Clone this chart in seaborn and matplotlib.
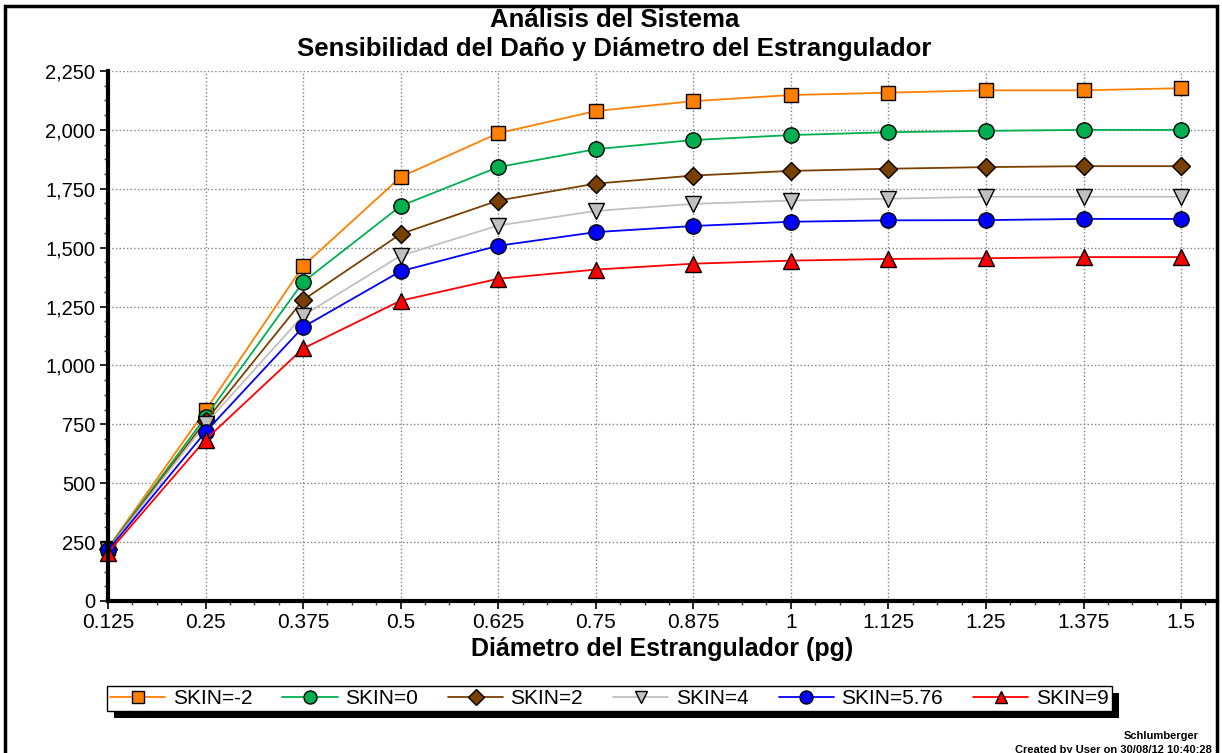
import numpy as np
import pandas as pd
import matplotlib
matplotlib.use('Agg')
import matplotlib.pyplot as plt
import seaborn as sns
from matplotlib.patches import Rectangle
from matplotlib.ticker import MultipleLocator, FuncFormatter, FixedLocator

sns.set_style('white')
plt.rcParams['font.family'] = ['Liberation Sans', 'DejaVu Sans']
plt.rcParams.update({'text.color': 'black', 'axes.labelcolor': 'black',
                     'xtick.color': 'black', 'ytick.color': 'black'})

# Data
choke = [0.125, 0.25, 0.375, 0.5, 0.625, 0.75, 0.875, 1.0, 1.125, 1.25, 1.375, 1.5]
choke_labels = ['0.125', '0.25', '0.375', '0.5', '0.625', '0.75', '0.875',
                '1', '1.125', '1.25', '1.375', '1.5']

skin_m2 = [225, 810, 1422, 1800, 1986, 2080, 2122, 2148, 2158, 2168, 2168, 2177]
skin_0 = [222, 781, 1354, 1677, 1842, 1918, 1957, 1978, 1990, 1996, 2000, 2000]
skin_2 = [220, 764, 1278, 1558, 1700, 1772, 1806, 1826, 1835, 1842, 1846, 1846]
skin_4 = [218, 752, 1212, 1466, 1594, 1656, 1686, 1700, 1708, 1716, 1716, 1716]
skin_576 = [215, 718, 1163, 1400, 1508, 1566, 1592, 1610, 1616, 1617, 1622, 1622]
skin_9 = [205, 685, 1072, 1275, 1368, 1407, 1432, 1445, 1452, 1455, 1460, 1460]

series_names = ['SKIN=-2', 'SKIN=0', 'SKIN=2', 'SKIN=4', 'SKIN=5.76', 'SKIN=9']
series_vals = [skin_m2, skin_0, skin_2, skin_4, skin_576, skin_9]
colors = ['#FF8000', '#00B050', '#7A4000', '#C0C0C0', '#0000FF', '#FF0000']
markers = ['s', 'o', 'D', 'v', 'o', '^']
msizes = [10, 11, 9, 11, 11, 11]

fig = plt.figure(figsize=(12.22, 7.53), dpi=100)
ax = fig.add_axes([108 / 1222, 1 - 601 / 753, (1217 - 108) / 1222, (601 - 71) / 753])

for name, vals, c, m, ms in zip(series_names, series_vals, colors, markers, msizes):
    sns.lineplot(x=choke, y=vals, color=c, marker=m, markersize=ms,
                 markeredgecolor='black', markeredgewidth=1.0, linewidth=1.3,
                 label=name, ax=ax, clip_on=False)

handles, labels = ax.get_legend_handles_labels()
if ax.get_legend() is not None:
    ax.get_legend().remove()

ax.set_xlim(0.125, 1.546)
ax.set_ylim(0, 2250)
ax.xaxis.set_major_locator(FixedLocator(choke))
ax.set_xticklabels(choke_labels)
ax.xaxis.set_minor_locator(MultipleLocator(0.03125))
ax.yaxis.set_major_locator(MultipleLocator(250))
ax.yaxis.set_minor_locator(MultipleLocator(62.5))
ax.yaxis.set_major_formatter(FuncFormatter(lambda v, p: f'{v:,.0f}'))

ax.grid(True, which='major', color='#808080', linestyle=':', linewidth=1.0)
ax.set_axisbelow(True)
for s in ['top', 'right']:
    ax.spines[s].set_visible(False)
for s in ['left', 'bottom']:
    ax.spines[s].set_linewidth(3)
    ax.spines[s].set_color('black')

ax.tick_params(axis='both', which='major', direction='out', length=6, width=1.2,
               colors='black', left=True, bottom=True, pad=3)
ax.tick_params(axis='y', which='major', labelsize=14.5)
ax.tick_params(axis='x', which='major', labelsize=15)
ax.tick_params(axis='both', which='minor', direction='out', length=3, width=1,
               colors='#404040', left=True, bottom=True)

ax.set_xlabel('Diámetro del Estrangulador (pg)', fontsize=18, fontweight='bold', labelpad=3)
ax.set_ylabel('')

fig.text(0.503, 1 - 27 / 753, 'Análisis del Sistema', ha='center', va='baseline',
         fontsize=18.5, fontweight='bold')
fig.text(0.503, 1 - 56 / 753, 'Sensibilidad del Daño y Diámetro del Estrangulador',
         ha='center', va='baseline', fontsize=18.5, fontweight='bold')

leg = fig.legend(handles, labels, loc='upper left', bbox_to_anchor=(107 / 1222, 1 - 686 / 753),
                 borderaxespad=0, ncol=6, fontsize=15, frameon=True, fancybox=False,
                 edgecolor='black', handlelength=2.65, handletextpad=0.35,
                 columnspacing=1.45, borderpad=0.15, markerscale=0.85)
leg.get_frame().set_linewidth(1.0)
leg.get_frame().set_alpha(1)

# black drop shadow behind the legend box
fig.canvas.draw()
bb = leg.get_window_extent().transformed(fig.transFigure.inverted())
fig.patches.append(Rectangle((bb.x0 + 7 / 1222, bb.y0 - 7 / 753), bb.width, bb.height,
                             transform=fig.transFigure, facecolor='black', edgecolor='none',
                             zorder=0, figure=fig))

fig.text(1199 / 1222, 1 - 736 / 753, 'Schlumberger', ha='right', va='center',
         fontsize=8, fontweight='bold')
fig.text(1212 / 1222, 1 - 750 / 753, 'Created by User on 30/08/12 10:40:28', ha='right',
         va='center', fontsize=8, fontweight='bold')

fig.patches.append(Rectangle((5 / 1222, -0.05), (1217 - 5) / 1222, 1.05 - 6 / 753,
                             transform=fig.transFigure, fill=False, edgecolor='black',
                             linewidth=2.5, figure=fig))

fig.savefig('out.png', dpi=100)
